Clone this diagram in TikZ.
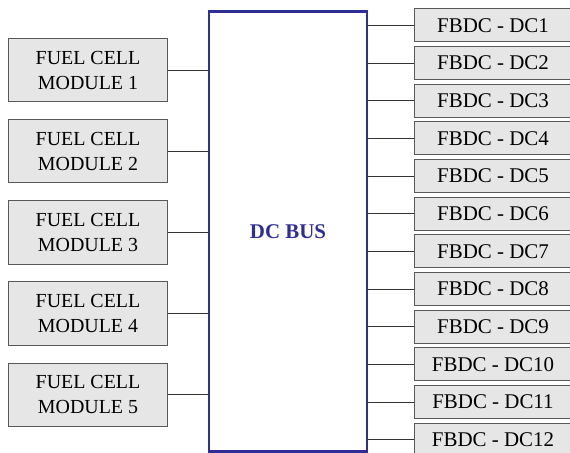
\documentclass[tikz,border=0pt]{standalone}
\usepackage{fontspec}
\setmainfont{Liberation Serif}
\usepackage{tikz}
\usetikzlibrary{calc}
\definecolor{cbus}{HTML}{2E2E96}
\definecolor{cbox}{HTML}{E6E6E6}

\begin{document}
\begin{tikzpicture}[x=1bp, y=-1bp, font=\fontsize{21}{25}\selectfont,
                    unit/.style={draw=black!65, fill=cbox, line width=1bp, text=black,
                                 minimum width=158bp, inner sep=0pt, align=center},
                    link/.style={line width=0.8bp, black!80}]
  \def\fcpitch{81}     % spacing of the fuel cell modules
  \def\dcpitch{37.64}  % spacing of the converters
  \clip (0,0) rectangle (570,453);
  % the bus
  \node[draw=cbus, line width=2.2bp, minimum width=158bp, minimum height=440bp, inner sep=0pt,
        text=cbus, font=\fontsize{21}{25}\selectfont\bfseries] (bus) at (288,231.5) {DC BUS};
  % fuel cell modules on the left
  \foreach \i in {1,...,5} {
    \node[unit, minimum height=63bp, font=\fontsize{20}{25}\selectfont]
      (fc\i) at (88,{70.5+\fcpitch*(\i-1)}) {FUEL CELL\\MODULE \i};
    \draw[link] (fc\i.east) -- (fc\i.east -| bus.west);
  }
  % converters on the right
  \foreach \i in {1,...,12} {
    \node[unit, minimum height=33bp] (dc\i) at (493,{25.5+\dcpitch*(\i-1)}) {FBDC - DC\i};
    \draw[link] (dc\i.west) -- (dc\i.west -| bus.east);
  }
\end{tikzpicture}
\end{document}
